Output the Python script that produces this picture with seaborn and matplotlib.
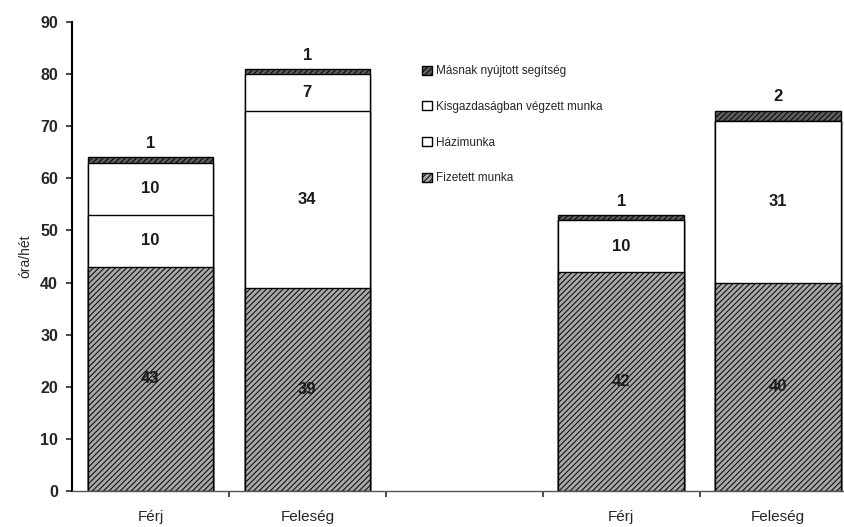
import matplotlib
matplotlib.use("Agg")
import matplotlib.pyplot as plt
import seaborn as sns
import numpy as np
import pandas as pd
from matplotlib.patches import Patch

categories = ["Férj", "Feleség", "", "Férj", "Feleség"]
slots = ["s1", "s2", "s3", "s4", "s5"]
fizetett = [43, 39, 0, 42, 40]
hazimunka = [10, 34, 0, 10, 31]
kisgazdasag = [10, 7, 0, 0, 0]
masnak = [1, 1, 0, 1, 2]
series_names = ["Fizetett munka", "Házimunka", "Kisgazdaságban végzett munka", "Másnak nyújtott segítség"]
yticks = [0, 10, 20, 30, 40, 50, 60, 70, 80, 90]

sns.set_theme(style="white")
plt.rcParams['font.family'] = ['Liberation Sans', 'DejaVu Sans']
plt.rcParams['hatch.linewidth'] = 0.7
plt.rcParams['hatch.color'] = '#3a3a3a'

series = [fizetett, hazimunka, kisgazdasag, masnak]
cum = np.cumsum(np.array(series, dtype=float), axis=0)

fig = plt.figure(figsize=(8.44, 5.27), dpi=100)
ax = fig.add_axes([72/844, 36/527, 772/844, 469/527])

styles = [
    dict(color='#a8a8a8', hatch='//////'),
    dict(color='white', hatch=None),
    dict(color='white', hatch=None),
    dict(color='#5e5e5e', hatch='//////'),
]

# draw from top layer down so lower layers overwrite
for i in range(3, -1, -1):
    df = pd.DataFrame({"slot": slots, "val": cum[i]})
    sns.barplot(data=df, x="slot", y="val", order=slots, ax=ax,
                color=styles[i]['color'], saturation=1, width=0.8,
                edgecolor='black', linewidth=1.0, errorbar=None)
    n = len(slots)
    for p in ax.patches[-n:]:
        if styles[i]['hatch']:
            p.set_hatch(styles[i]['hatch'])
        p.set_facecolor(styles[i]['color'])
        if p.get_height() == 0:
            p.set_visible(False)

# labels
for j in range(len(slots)):
    if cum[3][j] == 0:
        continue
    base = 0
    for i in range(3):
        v = series[i][j]
        if v > 0:
            ax.text(j, base + v/2, str(v), ha='center', va='center',
                    fontsize=12, fontweight='bold', color='#1a1a1a')
        base += v
    ax.text(j, cum[3][j] + 1.2, str(masnak[j]), ha='center', va='bottom',
            fontsize=12, fontweight='bold', color='#1a1a1a')

ax.set_ylim(0, 90)
ax.set_xlim(-0.5, 4.42)
ax.set_yticks(yticks)
ax.set_yticklabels([str(t) for t in yticks], fontsize=11.5, fontweight='bold')
ax.set_xticks([0.5, 1.5, 2.5, 3.5])
ax.set_xticklabels([])
ax.set_xticks(range(5), minor=True)
ax.set_xticklabels(categories, minor=True, fontsize=11)
ax.tick_params(axis='x', which='major', length=4, direction='out', bottom=True, color='#333')
ax.tick_params(axis='x', which='minor', length=0, pad=14, bottom=True)
ax.tick_params(axis='y', length=4, direction='out', left=True, color='#333', pad=6)
ax.set_xlabel("")
ax.set_ylabel("óra/hét", fontsize=10, labelpad=6)
for s in ['top', 'right']:
    ax.spines[s].set_visible(False)
ax.spines['left'].set_color('black')
ax.spines['left'].set_linewidth(1.5)
ax.spines['bottom'].set_color('#555')
ax.spines['bottom'].set_linewidth(1.0)

handles = [
    Patch(facecolor='#5e5e5e', edgecolor='black', hatch='//////', label=series_names[3]),
    Patch(facecolor='white', edgecolor='black', label=series_names[2]),
    Patch(facecolor='white', edgecolor='black', label=series_names[1]),
    Patch(facecolor='#a8a8a8', edgecolor='black', hatch='//////', label=series_names[0]),
]
ax.legend(handles=handles, loc='upper left', bbox_to_anchor=(0.44, 0.93), frameon=False,
          fontsize=8.5, handlelength=0.8, handleheight=0.8, labelspacing=2.0, handletextpad=0.4)

fig.savefig("out.png", dpi=100)
